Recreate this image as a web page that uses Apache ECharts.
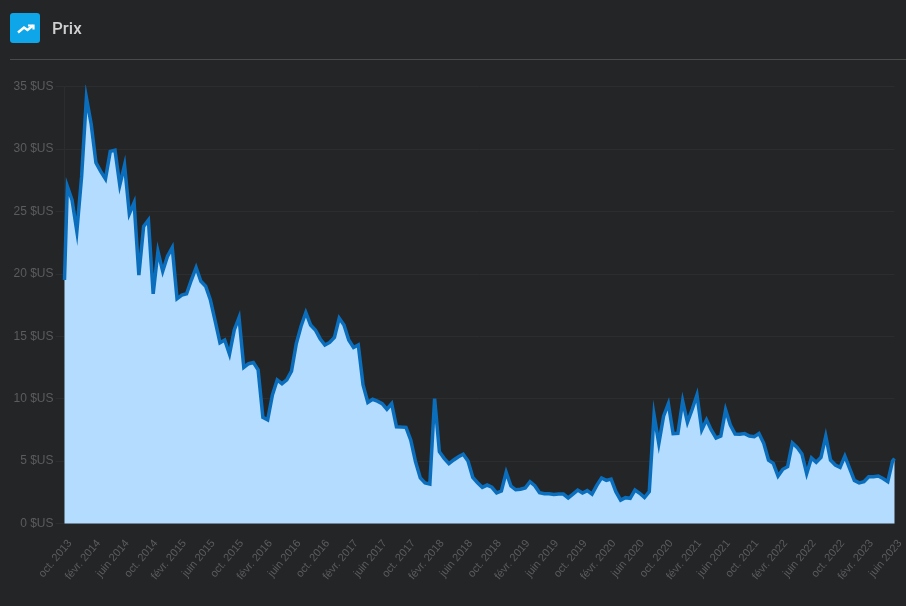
<!DOCTYPE html>
<html>
<head>
<meta charset="utf-8">
<style>html,body{margin:0;padding:0;background:#232527}#c{width:906px;height:606px}</style>
<script src="https://cdn.jsdelivr.net/npm/echarts@6/dist/echarts.min.js"></script>
</head>
<body>
<div id="c"></div>
<script>
const title = "Prix";
const tickLabels = ["oct. 2013","févr. 2014","juin 2014","oct. 2014","févr. 2015","juin 2015","oct. 2015","févr. 2016","juin 2016","oct. 2016","févr. 2017","juin 2017","oct. 2017","févr. 2018","juin 2018","oct. 2018","févr. 2019","juin 2019","oct. 2019","févr. 2020","juin 2020","oct. 2020","févr. 2021","juin 2021","oct. 2021","févr. 2022","juin 2022","oct. 2022","févr. 2023","juin 2023"];
const prices = [
19.5,27.0,25.9,23.4,27.8,34.1,32.0,28.9,28.2,27.6,
29.8,29.9,27.1,28.7,24.8,25.7,19.9,23.8,24.3,18.4,
21.8,20.2,21.4,22.1,18.0,18.3,18.4,19.5,20.5,19.4,
19.0,17.9,16.2,14.48,14.7,13.56,15.5,16.5,12.5,12.8,
12.9,12.3,8.5,8.3,10.3,11.5,11.2,11.5,12.2,14.4,
15.8,16.9,15.9,15.5,14.8,14.3,14.5,14.9,16.45,15.9,
14.7,14.1,14.3,11.1,9.7,9.95,9.8,9.6,9.15,9.6,
7.75,7.72,7.7,6.68,4.95,3.65,3.25,3.16,10.0,5.75,
5.22,4.8,5.09,5.35,5.55,5.0,3.7,3.27,2.9,3.08,
2.9,2.45,2.6,4.1,3.0,2.7,2.74,2.84,3.35,3.03,
2.47,2.38,2.39,2.33,2.36,2.36,2.05,2.36,2.68,2.44,
2.63,2.35,3.05,3.65,3.45,3.55,2.55,1.87,2.07,2.02,
2.68,2.42,2.08,2.55,8.7,6.4,8.6,9.6,7.2,7.22,
9.8,8.1,9.15,10.3,7.5,8.3,7.49,6.85,7.0,9.1,
7.89,7.17,7.14,7.2,7.0,6.95,7.2,6.42,5.08,4.82,
3.8,4.34,4.55,6.45,6.1,5.57,4.0,5.25,4.9,5.3,
7.0,5.08,4.68,4.5,5.4,4.42,3.45,3.25,3.35,3.75,
3.75,3.8,3.6,3.35,5.0,5.2
];
// Samples fall between the axis's ticks; the first and last are cut at the axis ends.
const ticksEvery = 6;
const axisEnd = (tickLabels.length - 1) * ticksEvery;
const sampleOffset = 0.41;
const series = prices.map((v, i) => {
  const pos = i === 0 ? 0 : i === prices.length - 1 ? axisEnd : i - sampleOffset;
  return [pos, v];
});
const chart = echarts.init(document.getElementById('c'), null, {renderer:'canvas'});
chart.setOption({
  backgroundColor:'#232527',
  animation:false,
  textStyle:{fontFamily:'Arial, "Liberation Sans", sans-serif'},
  grid:{left:64.5,right:11.5,top:86.5,bottom:82.5,containLabel:false,outerBoundsMode:'none'},
  xAxis:{
    type:'value',min:0,max:axisEnd,interval:ticksEvery,
    axisLine:{show:true,lineStyle:{color:'#2b2d2f',width:1}},
    axisTick:{show:false},
    splitLine:{show:false},
    axisLabel:{rotate:50,color:'#5b5c5e',fontSize:11,margin:8,lineHeight:21,verticalAlign:'top',align:'right',padding:[0,4,0,0],hideOverlap:false,
      formatter:v=>tickLabels[Math.round(v/ticksEvery)]}
  },
  yAxis:{
    type:'value',min:0,max:35,interval:5,
    axisLine:{show:true,lineStyle:{color:'#2b2d2f',width:1}},
    axisTick:{show:true,length:9,lineStyle:{color:'#2b2d2f'}},
    splitLine:{show:true,lineStyle:{color:'#2b2d2f',width:1}},
    axisLabel:{color:'#5b5c5e',fontSize:12,margin:11,formatter:v=>v+' $US'}
  },
  series:[{
    type:'line',data:series,showSymbol:false,smooth:false,
    lineStyle:{color:'#0a6ebd',width:3.5,join:'miter',miterLimit:10},
    areaStyle:{color:'#b3dcff',opacity:1}
  }],
  graphic:[
    {type:'rect',left:10,top:13,shape:{width:30,height:30,r:3},style:{fill:'#0ea5e9'}},
    {type:'polyline',shape:{points:[[18,32.5],[24,27.5],[27.5,30],[33,25.5]]},style:{stroke:'#fff',lineWidth:2.4,fill:null}},
    {type:'polyline',shape:{points:[[28,25.5],[33.5,25.5],[33.5,29.5]]},style:{stroke:'#fff',lineWidth:2.2,fill:null}},
    {type:'text',left:52,top:21,style:{text:title,fill:'#cfcfcf',font:'500 17px Roboto'}},
    {type:'line',shape:{x1:10,y1:59.5,x2:906,y2:59.5},style:{stroke:'#4a4a4a',lineWidth:1}}
  ]
});
</script>
</body>
</html>
